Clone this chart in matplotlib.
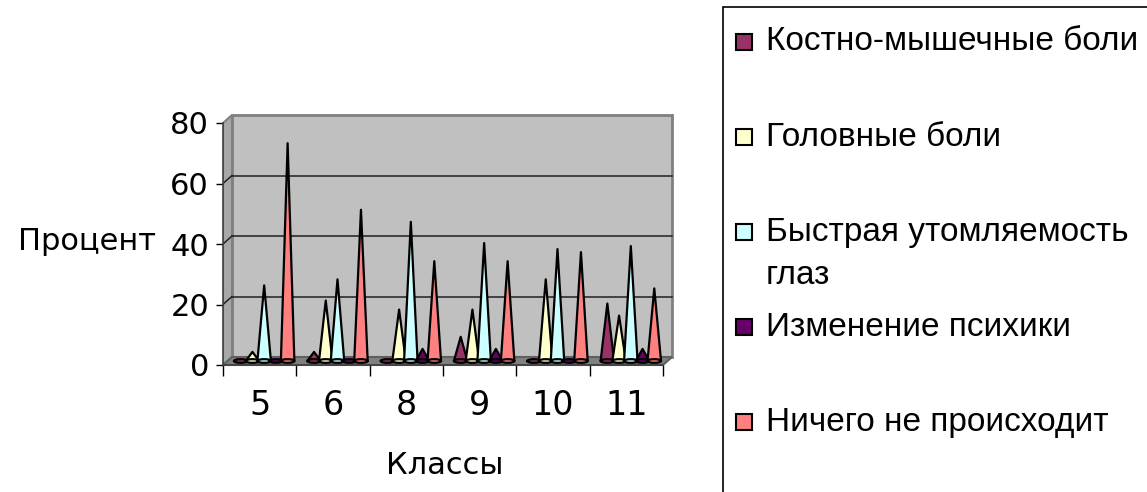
import numpy as np
import matplotlib.pyplot as plt
from matplotlib.patches import Polygon, Ellipse, Rectangle

classes = ['5', '6', '8', '9', '10', '11']
series_names = ['Костно-мышечные боли', 'Головные боли',
                'Быстрая утомляемость\nглаз', 'Изменение психики',
                'Ничего не происходит']
bone_pain = [0, 3, 0, 8, 0, 19]
headache = [3, 20, 17, 17, 27, 15]
eye_strain = [25, 27, 46, 39, 37, 38]
psyche = [0, 0, 4, 4, 0, 4]
nothing = [72, 50, 33, 33, 36, 24]
colors = ['#993366', '#FFFFCC', '#CCFFFF', '#660066', '#FF8080']

series = [bone_pain, headache, eye_strain, psyche, nothing]

W, H = 1147, 492
fig = plt.figure(figsize=(W / 100, H / 100), dpi=100)

# axes placed so that x=-0.5..5.5 and y=0..80 land on the front edges of the box
xmin, xmax = -0.5, 5.7
ymin, ymax = -3, 84
px_x0, px_cat = 223, 73.33
px_y0, px_unit = 365, 3.025
left = px_x0 + (xmin + 0.5) * px_cat
right = px_x0 + (xmax + 0.5) * px_cat
bottom = px_y0 - ymin * px_unit
top = px_y0 - ymax * px_unit
ax = fig.add_axes([left / W, 1 - bottom / H, (right - left) / W, (bottom - top) / H])
ax.set_xlim(xmin, xmax)
ax.set_ylim(ymin, ymax)
ax.patch.set_alpha(0)

# depth offset of the back wall, in data units
dx = 9 / px_cat
dy = 8 / px_unit

# left wall, floor and back wall
ax.add_patch(Polygon([(-0.5, 0), (-0.5, 80), (-0.5 + dx, 80 + dy), (-0.5 + dx, dy)],
                     closed=True, facecolor='#A8A8A8', edgecolor='#808080', lw=1.5, zorder=1))
ax.add_patch(Polygon([(-0.5, 0), (5.5, 0), (5.5 + dx, dy), (-0.5 + dx, dy)],
                     closed=True, facecolor='#808080', edgecolor='#606060', lw=1.5, zorder=1))
ax.add_patch(Rectangle((-0.5 + dx, dy), 6, 80, facecolor='#C0C0C0',
                       edgecolor='#808080', lw=2, zorder=0.5))
for v in [20, 40, 60]:
    ax.plot([-0.5 + dx, 5.5 + dx], [v + dy, v + dy], color='#202020', lw=1.1, zorder=1)
    ax.plot([-0.5, -0.5 + dx], [v, v + dy], color='#202020', lw=1.1, zorder=1)

# cones
step = 0.16
half_w = 0.092
for k, vals in enumerate(series):
    for i, v in enumerate(vals):
        xc = i + (k - 2) * step + dx / 2
        yb = dy / 2
        ax.add_patch(Polygon([(xc - half_w, yb), (xc, yb + v), (xc + half_w, yb)],
                             closed=True, facecolor=colors[k], edgecolor='black',
                             lw=1.6, joinstyle='round', zorder=3 + k))
        ax.add_patch(Ellipse((xc, yb), 2 * half_w, 1.2, facecolor=colors[k],
                             edgecolor='black', lw=1.6, zorder=3 + k))

# axes lines and ticks
for s in ['top', 'right']:
    ax.spines[s].set_visible(False)
ax.spines['left'].set_position(('data', -0.5))
ax.spines['left'].set_bounds(0, 80)
ax.spines['bottom'].set_position(('data', 0))
ax.spines['bottom'].set_bounds(-0.5, 5.5)
for s in ['left', 'bottom']:
    ax.spines[s].set_color('#404040')
    ax.spines[s].set_linewidth(1.2)
    ax.spines[s].set_zorder(2)

ax.set_yticks([0, 20, 40, 60, 80])
ax.tick_params(axis='y', direction='out', length=5, width=1, pad=5, labelsize=22)
ax.set_xticks(np.arange(-0.5, 6, 1))
ax.set_xticklabels([])
ax.set_xticks(np.arange(len(classes)), minor=True)
ax.set_xticklabels(classes, minor=True)
ax.tick_params(axis='x', which='major', direction='out', length=8, width=1)
ax.tick_params(axis='x', which='minor', length=0, pad=17, labelsize=24)

fig.text(87 / W, 1 - 242 / H, 'Процент', fontsize=22, ha='center', va='center')
fig.text(445 / W, 1 - 466 / H, 'Классы', fontsize=22, ha='center', va='center')

# legend box, running off the right and bottom edges
fig.add_artist(Rectangle((723 / W, -0.1), 1, 1.1 - 7 / H, transform=fig.transFigure,
                         fill=False, edgecolor='black', lw=1.2))
for k, name in enumerate(series_names):
    yc = 42 + 95 * k
    fig.add_artist(Rectangle((736 / W, 1 - (yc + 8) / H), 16 / W, 16 / H,
                             transform=fig.transFigure, facecolor=colors[k],
                             edgecolor='black', lw=1.5))
    for j, line in enumerate(name.split('\n')):
        fig.text(766 / W, 1 - (yc + 44 * j) / H, line, fontsize=24,
                 family='Liberation Sans', ha='left', va='center')

fig.savefig('out.png', dpi=100)
